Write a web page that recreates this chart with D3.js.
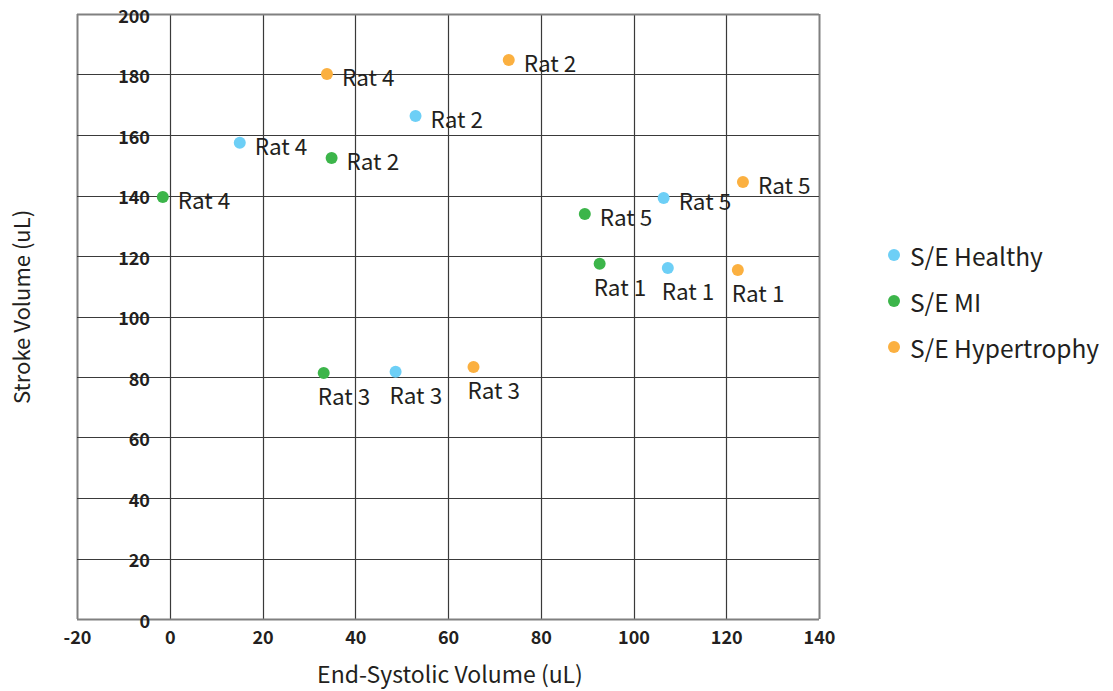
<!DOCTYPE html>
<html><head><meta charset="utf-8">
<script src="https://cdn.jsdelivr.net/npm/d3@7"></script>
<style>
body{margin:0;background:#fff;}
text{font-family:"Noto Sans CJK SC","Noto Sans",sans-serif;}
</style></head>
<body><svg id="chart" width="1113" height="691"></svg>
<script>
const seriesNames = ["S/E Healthy", "S/E MI", "S/E Hypertrophy"];
const seriesColors = ["#6dcff6", "#3cb54a", "#fbb040"];
const ratNames = ["Rat 1", "Rat 2", "Rat 3", "Rat 4", "Rat 5"];
const healthyX = [107.4, 53.0, 48.7, 15.1, 106.5];
const healthyY = [116.0, 166.3, 81.7, 157.4, 139.2];
const miX = [92.7, 34.9, 33.2, -1.5, 89.5];
const miY = [117.4, 152.4, 81.3, 139.5, 133.9];
const hyperX = [122.5, 73.1, 65.5, 33.9, 123.6];
const hyperY = [115.4, 184.8, 83.3, 180.2, 144.5];
const labelSide = ["below", "right", "below", "right", "right"];
const xTicks = [-20, 0, 20, 40, 60, 80, 100, 120, 140];
const yTicks = [0, 20, 40, 60, 80, 100, 120, 140, 160, 180, 200];
const xTitle = "End-Systolic Volume (uL)";
const yTitle = "Stroke Volume (uL)";

const svg = d3.select("#chart");
const x = d3.scaleLinear().domain([-20, 140]).range([77, 819]);
const y = d3.scaleLinear().domain([0, 200]).range([619, 14]);
const txt = "#231f20";

const grid = svg.append("g");
grid.selectAll("line.v").data(xTicks).join("line")
  .attr("x1", d => Math.round(x(d)) + 0.5).attr("x2", d => Math.round(x(d)) + 0.5)
  .attr("y1", y(200)).attr("y2", y(0))
  .attr("stroke", d => (d === -20 || d === 140) ? "#808080" : "#3a3a3a").attr("stroke-width", d => (d === -20 || d === 140) ? 2 : 1.2);
grid.selectAll("line.h").data(yTicks).join("line")
  .attr("y1", d => Math.round(y(d)) + 0.5).attr("y2", d => Math.round(y(d)) + 0.5)
  .attr("x1", x(-20)).attr("x2", x(140))
  .attr("stroke", d => (d === 0 || d === 200) ? "#808080" : "#3a3a3a").attr("stroke-width", d => (d === 0 || d === 200) ? 2 : 1.2);

const xAxis = svg.append("g").attr("transform", `translate(0,${y(0)})`)
  .call(d3.axisBottom(x).tickValues(xTicks).tickSize(0).tickPadding(12).tickFormat(d3.format("d")));
xAxis.select(".domain").remove();
xAxis.selectAll("text").attr("font-size", 18).attr("font-weight", "bold").attr("fill", txt)
  .style("font-family", '"Noto Sans CJK SC","Noto Sans",sans-serif').text(d => String(d));

const yAxis = svg.append("g").attr("transform", `translate(${x(-20) + 73},0)`)
  .call(d3.axisLeft(y).tickValues(yTicks).tickSize(0).tickPadding(0).tickFormat(d3.format("d")));
yAxis.select(".domain").remove();
yAxis.selectAll("text").attr("font-size", 18).attr("font-weight", "bold").attr("fill", txt)
  .attr("dy", "0.45em")
  .style("font-family", '"Noto Sans CJK SC","Noto Sans",sans-serif');

svg.append("text").attr("x", 450).attr("y", 683).attr("text-anchor", "middle")
  .attr("font-size", 23).attr("fill", txt).text(xTitle);
svg.append("text").attr("transform", "translate(30,307) rotate(-90)").attr("text-anchor", "middle")
  .attr("font-size", 22).attr("fill", txt).text(yTitle);

const series = [
  {name: seriesNames[0], color: seriesColors[0], xs: healthyX, ys: healthyY},
  {name: seriesNames[1], color: seriesColors[1], xs: miX, ys: miY},
  {name: seriesNames[2], color: seriesColors[2], xs: hyperX, ys: hyperY}
];
const pts = [];
series.forEach(s => s.xs.forEach((v, i) => pts.push({x: v, y: s.ys[i], color: s.color, label: ratNames[i], side: labelSide[i]})));

const pg = svg.append("g");
pg.selectAll("circle").data(pts).join("circle")
  .attr("cx", d => x(d.x)).attr("cy", d => y(d.y)).attr("r", 6).attr("fill", d => d.color);
pg.selectAll("text").data(pts).join("text")
  .attr("x", d => x(d.x) + (d.side === "right" ? 15 : -6))
  .attr("y", d => y(d.y) + (d.side === "right" ? 12 : 32))
  .attr("font-size", 22.5).attr("fill", txt).text(d => d.label);

const lg = svg.append("g");
seriesNames.forEach((n, i) => {
  lg.append("circle").attr("cx", 894).attr("cy", 255 + i * 46).attr("r", 6).attr("fill", seriesColors[i]);
  lg.append("text").attr("x", 910).attr("y", 265.5 + i * 46).attr("font-size", 24.5).attr("fill", txt).text(n);
});
</script></body></html>
